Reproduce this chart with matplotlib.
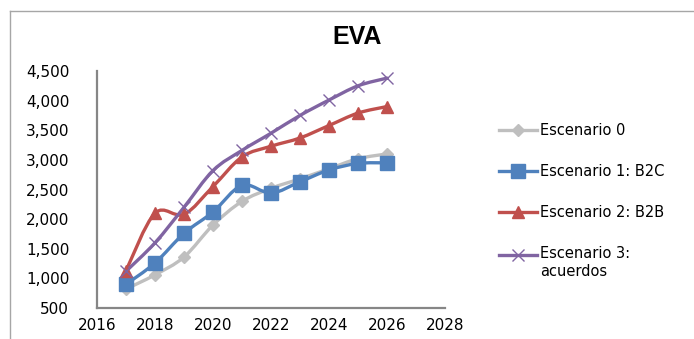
import matplotlib
matplotlib.use("Agg")
import matplotlib.pyplot as plt
from matplotlib.path import Path
from matplotlib.patches import PathPatch
from matplotlib.lines import Line2D
from matplotlib.legend_handler import HandlerLine2D
from matplotlib.ticker import FuncFormatter
import numpy as np

years = [2017, 2018, 2019, 2020, 2021, 2022, 2023, 2024, 2025, 2026]
esc0 = [820, 1060, 1360, 1900, 2300, 2520, 2680, 2850, 3020, 3100]
esc1 = [900, 1260, 1760, 2120, 2570, 2440, 2630, 2830, 2940, 2950]
esc2 = [1130, 2100, 2080, 2550, 3050, 3230, 3370, 3580, 3790, 3900]
esc3 = [1120, 1600, 2200, 2820, 3160, 3450, 3750, 4010, 4250, 4380]
labels = ["Escenario 0", "Escenario 1: B2C", "Escenario 2: B2B",
          "Escenario 3:\nacuerdos"]
colors = ["#BFBFBF", "#4F81BD", "#C0504D", "#8064A2"]
markers = ["D", "s", "^", "x"]
msizes = [6, 9.5, 9, 9]

plt.rcParams['font.family'] = ['DejaVu Sans']


def smooth_path(x, y):
    # cardinal spline through the points, as cubic bezier segments
    pts = np.column_stack([x, y]).astype(float)
    n = len(pts)
    verts = [pts[0]]
    codes = [Path.MOVETO]
    for i in range(n - 1):
        p0 = pts[i - 1] if i > 0 else pts[i]
        p1 = pts[i]
        p2 = pts[i + 1]
        p3 = pts[i + 2] if i + 2 < n else pts[i + 1]
        c1 = p1 + (p2 - p0) / 6
        c2 = p2 - (p3 - p1) / 6
        verts += [c1, c2, p2]
        codes += [Path.CURVE4] * 3
    return Path(verts, codes)


class FirstLineHandler(HandlerLine2D):
    # put the legend sample next to the first line of a two-line label
    def create_artists(self, legend, orig_handle, xdescent, ydescent,
                       width, height, fontsize, trans):
        arts = super().create_artists(legend, orig_handle, xdescent, ydescent,
                                      width, height, fontsize, trans)
        for a in arts:
            a.set_ydata(np.asarray(a.get_ydata()) + 0.6 * fontsize)
        return arts


fig = plt.figure(figsize=(6.94, 3.39), dpi=100)
ax = fig.add_axes([97 / 694, 1 - 308 / 339, 348 / 694, 237 / 339])

handles = []
for vals, c, m, ms, lab in zip([esc0, esc1, esc2, esc3], colors, markers, msizes, labels):
    ax.add_patch(PathPatch(smooth_path(years, vals), fill=False, edgecolor=c,
                           lw=2.4, capstyle='round', joinstyle='round'))
    if m == "x":
        ax.plot(years, vals, ls='none', marker=m, ms=ms, mec=c, mew=1.0)
        h = Line2D([], [], color=c, lw=2.4, marker=m, ms=ms, mew=1.0)
    else:
        ax.plot(years, vals, ls='none', marker=m, ms=ms, mfc=c, mec=c)
        h = Line2D([], [], color=c, lw=2.4, marker=m, ms=ms, mfc=c, mec=c)
    handles.append(h)

ax.set_xlim(2016, 2028)
ax.set_ylim(500, 4500)
ax.set_xticks(range(2016, 2029, 2))
ax.set_yticks(range(500, 4501, 500))
ax.yaxis.set_major_formatter(FuncFormatter(lambda v, p: f"{int(v):,}"))
ax.tick_params(length=0, labelsize=11, colors='black')
ax.tick_params(axis='y', pad=20)
ax.tick_params(axis='x', pad=7)
for s in ['top', 'right']:
    ax.spines[s].set_visible(False)
for s in ['left', 'bottom']:
    ax.spines[s].set_color('#868686')
    ax.spines[s].set_linewidth(1.6)

leg = fig.legend(handles, labels, loc='upper left',
                 bbox_to_anchor=(492 / 694, 1 - 116 / 339), frameon=False,
                 fontsize=10.5, handlelength=2.6, handletextpad=0.2,
                 labelspacing=1.78, borderpad=0,
                 handler_map={handles[3]: FirstLineHandler()})

fig.text(357 / 694, 1 - 37 / 339, "EVA", ha='center', va='center',
         fontsize=18, fontweight='bold', family=['Liberation Sans'])

# outer chart frame (left and top edges)
fig.add_artist(Line2D([10 / 694, 10 / 694], [0, 1 - 11 / 339],
                      transform=fig.transFigure, color='#A6A6A6', lw=1))
fig.add_artist(Line2D([10 / 694, 1], [1 - 11 / 339, 1 - 11 / 339],
                      transform=fig.transFigure, color='#A6A6A6', lw=1))

fig.savefig("out.png", dpi=100)
